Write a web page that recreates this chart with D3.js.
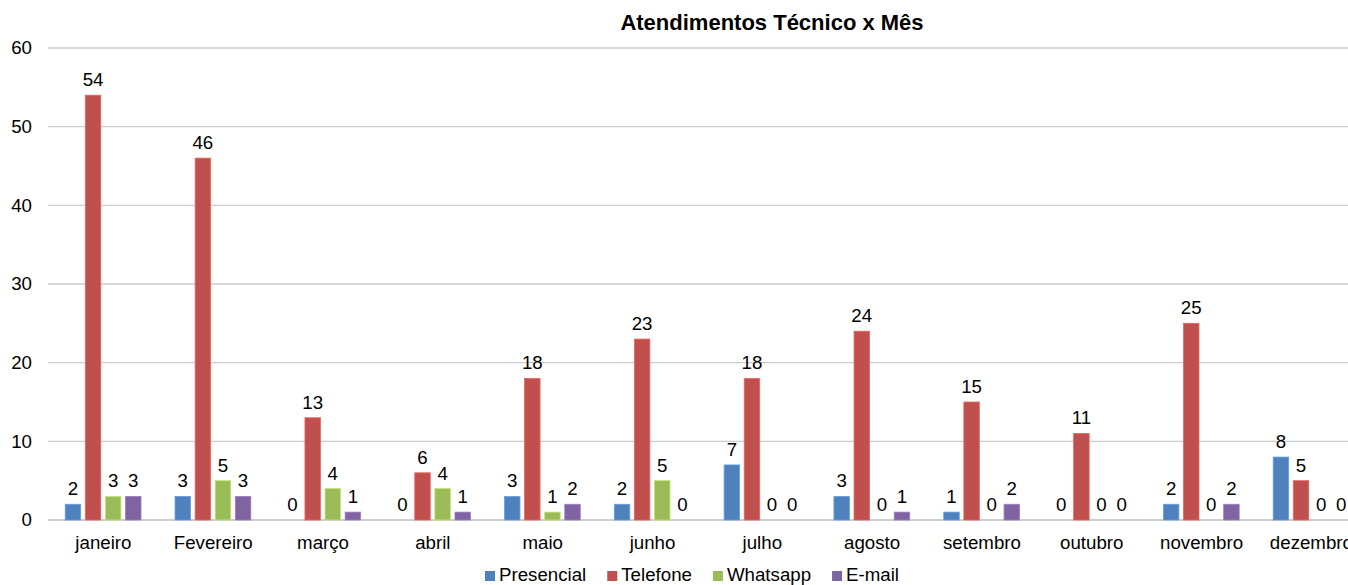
<!DOCTYPE html>
<html>
<head>
<meta charset="utf-8">
<script src="https://cdn.jsdelivr.net/npm/d3@7"></script>
<style>
  body { margin: 0; background: #fff; overflow: hidden; }
  svg { display: block; font-family: "Liberation Sans", Arial, sans-serif; }
</style>
</head>
<body>
<svg id="chart" width="1348" height="585"></svg>
<script>
const months = ['janeiro', 'Fevereiro', 'março', 'abril', 'maio', 'junho', 'julho', 'agosto', 'setembro', 'outubro', 'novembro', 'dezembro'];
const seriesNames = ['Presencial', 'Telefone', 'Whatsapp', 'E-mail'];
const presencial = [2, 3, 0, 0, 3, 2, 7, 3, 1, 0, 2, 8];
const telefone = [54, 46, 13, 6, 18, 23, 18, 24, 15, 11, 25, 5];
const whatsapp = [3, 5, 4, 4, 1, 5, 0, 0, 0, 0, 0, 0];
const email = [3, 3, 1, 1, 2, 0, 0, 1, 2, 0, 2, 0];
const yTicks = [0, 10, 20, 30, 40, 50, 60];
const title = 'Atendimentos Técnico x Mês';

const colors = ['#4f81bd', '#c0504d', '#9bbb59', '#8064a2'];
const textColor = '#000';
const gridColor = '#cccccc';
const fontSize = 18.7;

const seriesValues = [presencial, telefone, whatsapp, email];
const data = months.map((m, i) => ({
  month: m,
  values: seriesNames.map((s, j) => ({ key: s, value: seriesValues[j][i] }))
}));

const svg = d3.select('#chart');
const width = 1348;

// escalas
const x0 = d3.scaleBand()
  .domain(months)
  .range([48.5, 1366.3])
  .padding(0);
const groupW = 75.8;
const x1 = d3.scaleBand()
  .domain(seriesNames)
  .range([0, groupW])
  .paddingInner(0.229)
  .paddingOuter(0);
const y = d3.scaleLinear()
  .domain([0, 60])
  .range([520, 48]);

// título
svg.append('text')
  .attr('x', 772)
  .attr('y', 30)
  .attr('text-anchor', 'middle')
  .attr('font-size', 22)
  .attr('font-weight', 'bold')
  .attr('fill', textColor)
  .text(title);

// grade
const grid = svg.append('g');
grid.selectAll('line').data(yTicks).enter()
  .append('line')
  .attr('x1', 48)
  .attr('x2', width)
  .attr('y1', d => y(d))
  .attr('y2', d => y(d))
  .attr('stroke', d => d === 0 ? '#bfbfbf' : gridColor)
  .attr('stroke-width', 1.4);

// eixo y
const yAxis = d3.axisLeft(y)
  .tickValues(yTicks)
  .tickSize(0)
  .tickPadding(0);
const yg = svg.append('g')
  .attr('transform', 'translate(32,0)')
  .call(yAxis);
yg.select('.domain').remove();
yg.selectAll('text')
  .attr('font-size', fontSize)
  .attr('font-family', '"Liberation Sans", Arial, sans-serif')
  .attr('fill', textColor);

// eixo x
const xAxis = d3.axisBottom(x0)
  .tickSize(0)
  .tickPadding(0);
const xg = svg.append('g')
  .attr('transform', 'translate(0,520)')
  .call(xAxis);
xg.select('.domain').remove();
xg.selectAll('text')
  .attr('dy', null)
  .attr('y', 29)
  .attr('font-size', fontSize)
  .attr('font-family', '"Liberation Sans", Arial, sans-serif')
  .attr('fill', textColor);

// barras
const groups = svg.append('g').selectAll('g').data(data).enter()
  .append('g')
  .attr('transform', d => `translate(${x0(d.month) + x0.bandwidth() / 2 - groupW / 2 - 0.3},0)`);

groups.selectAll('rect').data(d => d.values).enter()
  .append('rect')
  .attr('x', d => x1(d.key))
  .attr('width', x1.bandwidth())
  .attr('y', d => y(d.value))
  .attr('height', d => y(0) - y(d.value))
  .attr('fill', (d, i) => colors[i])
  .attr('stroke', (d, i) => d3.color(colors[i]).brighter(0.6))
  .attr('stroke-width', 0.8);

groups.selectAll('text').data(d => d.values).enter()
  .append('text')
  .attr('x', d => x1(d.key) + x1.bandwidth() / 2)
  .attr('y', d => y(d.value) - 9)
  .attr('text-anchor', 'middle')
  .attr('font-size', fontSize)
  .attr('fill', textColor)
  .text(d => d.value);

// legenda
const legend = svg.append('g');
let lx = 485;
seriesNames.forEach((s, i) => {
  legend.append('rect')
    .attr('x', lx)
    .attr('y', 571)
    .attr('width', 10)
    .attr('height', 10)
    .attr('fill', colors[i]);
  const t = legend.append('text')
    .attr('x', lx + 14)
    .attr('y', 581)
    .attr('font-size', fontSize)
    .attr('fill', textColor)
    .text(s);
  lx += 14 + t.node().getComputedTextLength() + 21;
});
</script>
</body>
</html>
